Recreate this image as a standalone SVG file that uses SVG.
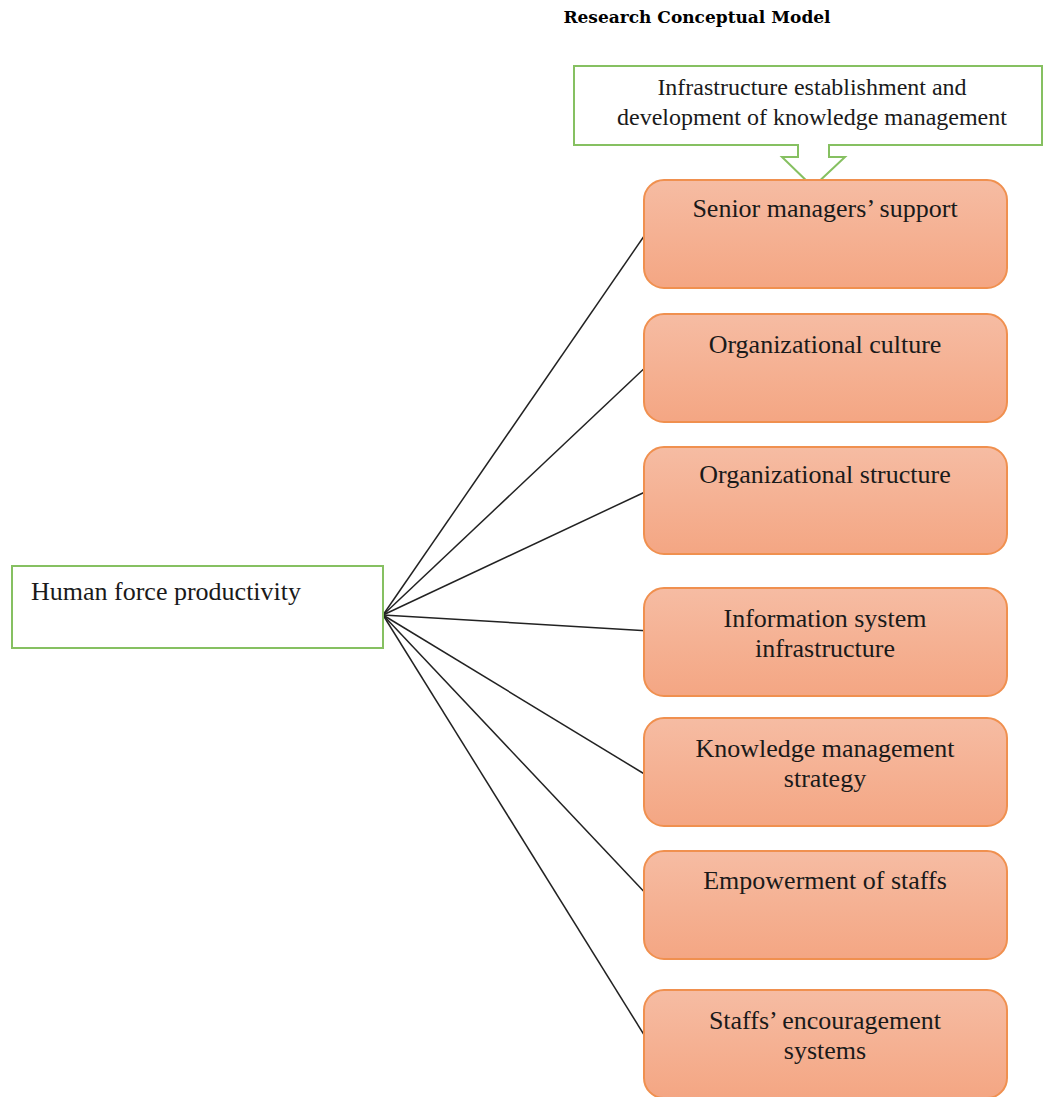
<svg xmlns="http://www.w3.org/2000/svg" width="1043" height="1097" viewBox="0 0 1043 1097">
<style>
.title{font-family:"DejaVu Serif","Liberation Serif",serif;font-weight:bold;font-size:17px;fill:#000}
.t{font-family:"Liberation Serif",serif;font-size:26px;fill:#1a1a1a}
.s{font-size:24px}
.c{text-anchor:middle}
.ob{fill:url(#og);stroke:#f0904f;stroke-width:2}
.gb{fill:#fff;stroke:#86c061;stroke-width:2}
.ln{stroke:#222;stroke-width:1.5;fill:none}
</style>
<defs>
<linearGradient id="og" x1="0" y1="0" x2="0" y2="1">
<stop offset="0" stop-color="#f6bca3"/>
<stop offset="1" stop-color="#f4a683"/>
</linearGradient>
</defs>
<rect width="1043" height="1097" fill="#fff"/>
<text class="title c" x="697" y="23">Research Conceptual Model</text>
<g id="connectors">
<line class="ln" x1="383" y1="615" x2="651" y2="226"/>
<line class="ln" x1="383" y1="615" x2="650" y2="363"/>
<line class="ln" x1="383" y1="615" x2="645" y2="492"/>
<line class="ln" x1="383" y1="615" x2="650" y2="631"/>
<line class="ln" x1="383" y1="615" x2="651" y2="778"/>
<line class="ln" x1="383" y1="615" x2="650" y2="898"/>
<line class="ln" x1="383" y1="615" x2="651" y2="1046"/>
</g>
<g id="n-infra">
<path class="gb" d="M574,66 H1042 V145 H829 V157 H845 L813,187 L782,157 H798 V145 H574 Z"/>
<text class="t s c" x="812" y="95">Infrastructure establishment and</text>
<text class="t s c" x="812" y="125">development of knowledge management</text>
</g>
<g id="n-human">
<rect class="gb" x="12" y="566" width="371" height="82"/>
<text class="t" x="31" y="600">Human force productivity</text>
</g>
<g id="n1">
<rect class="ob" x="644" y="180" width="363" height="108" rx="20"/>
<text class="t c" x="825" y="217">Senior managers’ support</text>
</g>
<g id="n2">
<rect class="ob" x="644" y="314" width="363" height="108" rx="20"/>
<text class="t c" x="825" y="353">Organizational culture</text>
</g>
<g id="n3">
<rect class="ob" x="644" y="447" width="363" height="107" rx="20"/>
<text class="t c" x="825" y="483">Organizational structure</text>
</g>
<g id="n4">
<rect class="ob" x="644" y="588" width="363" height="108" rx="20"/>
<text class="t c" x="825" y="627">Information system</text>
<text class="t c" x="825" y="657">infrastructure</text>
</g>
<g id="n5">
<rect class="ob" x="644" y="718" width="363" height="108" rx="20"/>
<text class="t c" x="825" y="757">Knowledge management</text>
<text class="t c" x="825" y="787">strategy</text>
</g>
<g id="n6">
<rect class="ob" x="644" y="851" width="363" height="108" rx="20"/>
<text class="t c" x="825" y="889">Empowerment of staffs</text>
</g>
<g id="n7">
<rect class="ob" x="644" y="990" width="363" height="108" rx="20"/>
<text class="t c" x="825" y="1029">Staffs’ encouragement</text>
<text class="t c" x="825" y="1059">systems</text>
</g>
</svg>
